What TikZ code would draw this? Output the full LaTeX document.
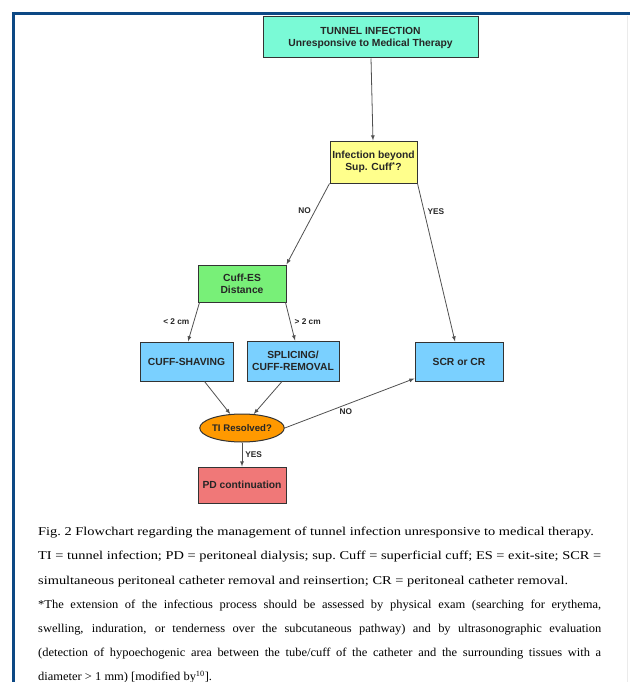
\documentclass[tikz,border=0pt]{standalone}
\usepackage{fontspec}
\setmainfont{Liberation Serif}
\setsansfont{Liberation Sans}
\newfontfamily\capfont[FakeStretch=1.2]{Liberation Serif}
\newfontfamily\notefont[FakeStretch=1.04]{Liberation Serif}
\usetikzlibrary{shapes.geometric}
\definecolor{frameblue}{RGB}{12,72,132}
\definecolor{tunnelgreen}{RGB}{122,250,214}
\definecolor{askyellow}{RGB}{255,255,140}
\definecolor{cuffgreen}{RGB}{120,240,120}
\definecolor{actblue}{RGB}{122,208,255}
\definecolor{askorange}{RGB}{255,153,0}
\definecolor{pdred}{RGB}{240,120,120}
\definecolor{linegray}{RGB}{80,80,80}
\begin{document}
\begin{tikzpicture}[x=1pt,y=-1pt]
        \useasboundingbox (0,0) rectangle (630,682);
        \draw[frameblue,line width=3pt] (13,682) -- (13,13.5) -- (630,13.5);
        \draw[black!8] (627,16) -- (627,682);
        \tikzstyle{every node}=[draw=black!80,line width=1pt,align=center,text=black!85,inner sep=1pt,
            font=\sffamily\bfseries\fontsize{10.3}{12}\selectfont]
        \node[fill=tunnelgreen,minimum width=215pt,minimum height=41pt] (tunnel)   at (370.5,37.5) {TUNNEL INFECTION\\Unresponsive to Medical Therapy};
        \node[fill=askyellow,minimum width=87pt,minimum height=42pt]    (beyond)   at (373.5,162)  {Infection beyond\\Sup. Cuff\textsuperscript{*}?};
        \node[fill=cuffgreen,minimum width=88pt,minimum height=37pt]    (cuffes)   at (242,283.5)  {Cuff-ES\\Distance};
        \node[fill=actblue,minimum width=93pt,minimum height=39pt]      (shaving)  at (186.5,361.5){CUFF-SHAVING};
        \node[fill=actblue,minimum width=92pt,minimum height=40pt]      (splicing) at (293,361)    {SPLICING/\\CUFF-REMOVAL};
        \node[fill=actblue,minimum width=88pt,minimum height=39pt]      (scr)      at (459,361.5)  {SCR or CR};
        \node[fill=askorange,ellipse,inner sep=0pt,minimum width=84pt,minimum height=28pt,
            font=\sffamily\bfseries\fontsize{9.6}{11}\selectfont] (resolved) at (242,428) {TI Resolved?};
        \node[fill=pdred,minimum width=88pt,minimum height=36pt]        (pd)       at (242,485)    {PD continuation};
        \tikzstyle{every node}=[text=black!85,inner sep=2pt,font=\sffamily\bfseries\fontsize{8.3}{10}\selectfont]
        \draw[-latex,linegray,line width=0.8pt] (tunnel) -- (beyond);
        \draw[-latex,linegray,line width=0.8pt] (beyond.south west) -- (cuffes.north east) node[pos=0.33,left=2pt] {NO};
        \draw[-latex,linegray,line width=0.8pt] (beyond.south east) -- ([xshift=-4pt]scr.north) node[pos=0.18,right=1pt] {YES};
        \draw[-latex,linegray,line width=0.8pt] ([xshift=2pt]cuffes.south west) -- ([xshift=1.5pt]shaving.north) node[midway,left=2pt] {< 2 cm};
        \draw[-latex,linegray,line width=0.8pt] ([xshift=-1pt]cuffes.south east) -- ([xshift=2pt]splicing.north) node[midway,right=2pt] {> 2 cm};
        \draw[-latex,linegray,line width=0.8pt] ([xshift=18pt]shaving.south) -- (resolved.130);
        \draw[-latex,linegray,line width=0.8pt] ([xshift=-11pt]splicing.south) -- (resolved.50);
        \draw[-latex,linegray,line width=0.8pt] (resolved.east) -- ([yshift=3pt]scr.south west) node[pos=0.47,below=2pt] {NO};
        \draw[-latex,linegray,line width=0.8pt] (resolved) -- (pd) node[midway,right=1pt] {YES};
        \tikzstyle{every node}=[inner sep=0pt,anchor=base west,text width=563pt,align=justify,
            font=\capfont\fontsize{12}{24.5}\selectfont]
        \node (figcap) at (38,535) {Fig.~2 Flowchart regarding the management of tunnel infection unresponsive to medical therapy.\\
            TI = tunnel infection; PD = peritoneal dialysis; sup.\ Cuff = superficial cuff; ES = exit-site; SCR =\linebreak simultaneous peritoneal catheter removal and reinsertion; CR = peritoneal catheter removal.};
        \node[font=\notefont\fontsize{12}{24.2}\selectfont] (fignote) at (38,608) {*The extension of the infectious process should be assessed by physical exam (searching for erythema,\linebreak swelling, induration, or tenderness over the subcutaneous pathway) and by ultrasonographic evaluation\linebreak (detection of hypoechogenic area between the tube/cuff of the catheter and the surrounding tissues with a\linebreak diameter > 1~mm) [modified by\textsuperscript{10}].};
    \end{tikzpicture}
\end{document}
